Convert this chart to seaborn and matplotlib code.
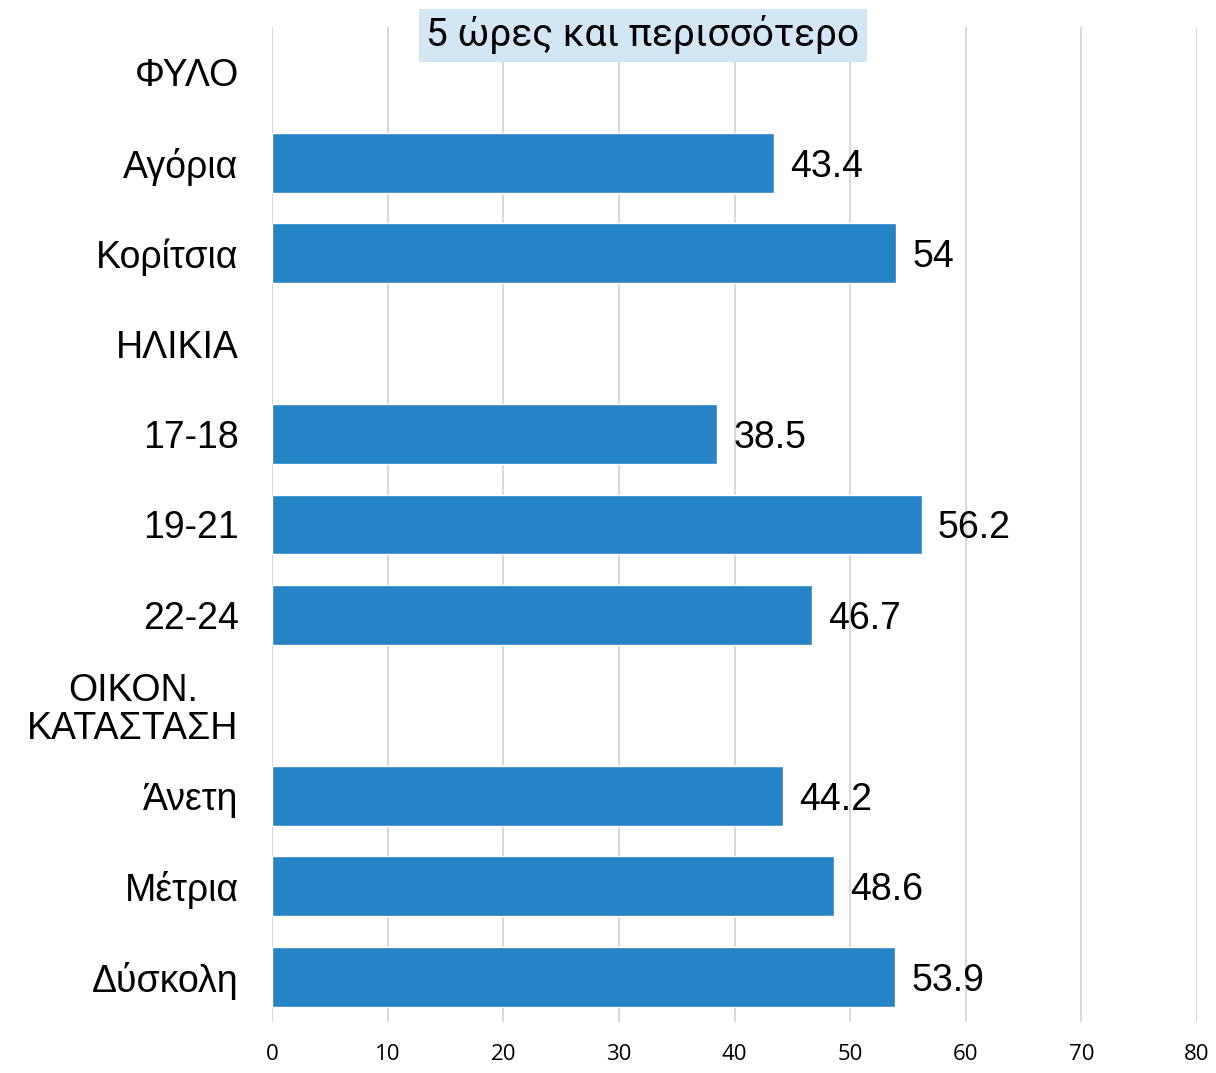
import numpy as np
import pandas as pd
import matplotlib
matplotlib.use("Agg")
import matplotlib.pyplot as plt
import seaborn as sns

# Row labels (group headers have no bar)
categories = ["ΦΥΛΟ", "Αγόρια", "Κορίτσια", "ΗΛΙΚΙΑ", "17-18", "19-21", "22-24",
              "ΟΙΚΟΝ.\nΚΑΤΑΣΤΑΣΗ", "Άνετη", "Μέτρια", "Δύσκολη"]
values = [np.nan, 43.4, 54, np.nan, 38.5, 56.2, 46.7, np.nan, 44.2, 48.6, 53.9]
xticks = [0, 10, 20, 30, 40, 50, 60, 70, 80]
title = "5 ώρες και περισσότερο"

BAR_COLOR = "#2683C6"

sns.set_theme(style="white")
plt.rcParams["font.family"] = ["Liberation Sans", "DejaVu Sans"]

df = pd.DataFrame({"cat": categories, "val": values})

fig = plt.figure(figsize=(12.16, 10.73), dpi=100)
ax = fig.add_axes([272 / 1216, 1 - 1022 / 1073, (1197 - 272) / 1216, (1022 - 27) / 1073])

sns.barplot(data=df.dropna(), x="val", y="cat", order=categories, color=BAR_COLOR,
            saturation=1, width=0.66, ax=ax, orient="h")

ax.set_xlim(0, 80)
ax.set_ylim(len(categories) - 0.5, -0.5)
ax.set_xticks(xticks)
ax.set_xticklabels([str(t) for t in xticks], fontsize=16, family=["Open Sans", "DejaVu Sans"])
ax.set_xlabel("")
ax.set_ylabel("")
ax.grid(axis="x", color="#d9d9d9", linewidth=1.5)
ax.set_axisbelow(True)
for s in ax.spines.values():
    s.set_visible(False)
ax.tick_params(axis="x", length=0, pad=16, colors="black")
ax.tick_params(axis="y", length=0, pad=24)
for lbl in ax.get_yticklabels():
    lbl.set_fontsize(27)
    lbl.set_color("black")
    lbl.set_multialignment("center")
    lbl.set_linespacing(1.05)

# Value labels next to each bar
for i, v in enumerate(values):
    if not np.isnan(v):
        ax.annotate(f"{v:g}", xy=(v, i), xytext=(11.5, 0), textcoords="offset points",
                    ha="left", va="center_baseline", fontsize=27, color="black")

fig.text(643 / 1216, 1 - 35 / 1073, title, ha="center", va="center", fontsize=28,
         family=["Roboto", "DejaVu Sans"], color="black",
         bbox=dict(boxstyle="square,pad=0.18", facecolor="#D3E6F4", edgecolor="none"))

fig.savefig("out.png", dpi=100, facecolor="white")
